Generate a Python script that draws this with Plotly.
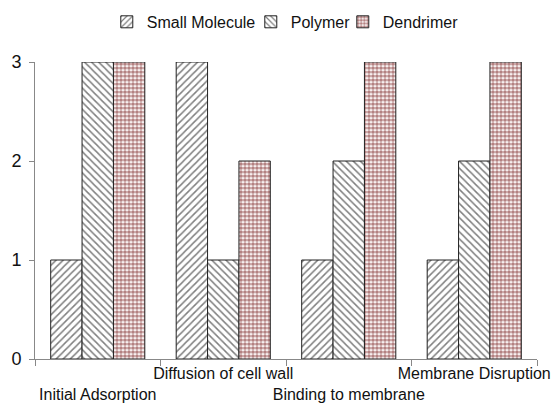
import plotly.graph_objects as go

categories = ["Initial Adsorption", "Diffusion of cell wall", "Binding to membrane", "Membrane Disruption"]
tick_text = ["<br>Initial Adsorption", "Diffusion of cell wall", "<br>Binding to membrane", "Membrane Disruption"]
small_molecule = [1, 3, 1, 1]
polymer = [3, 1, 2, 2]
dendrimer = [3, 2, 3, 3]
y_ticks = [0, 1, 2, 3]

FONT = "Liberation Sans, Arial, sans-serif"

fig = go.Figure()
fig.add_trace(go.Bar(
    name="Small Molecule", x=categories, y=small_molecule, legendwidth=99,
    marker=dict(color="white", line=dict(color="#222222", width=1),
                pattern=dict(shape="/", fgcolor="#000000", bgcolor="white", size=5, solidity=0.3)),
))
fig.add_trace(go.Bar(
    name="Polymer", x=categories, y=polymer, legendwidth=47,
    marker=dict(color="white", line=dict(color="#222222", width=1),
                pattern=dict(shape="\\", fgcolor="#000000", bgcolor="white", size=5, solidity=0.3)),
))
fig.add_trace(go.Bar(
    name="Dendrimer", x=categories, y=dendrimer,
    marker=dict(color="white", line=dict(color="#222222", width=1),
                pattern=dict(shape=".", fgcolor="#6a0505", bgcolor="#ffffff", size=4, solidity=0.68)),
))

fig.update_layout(
    width=554, height=405,
    margin=dict(l=35, r=17, t=62, b=46, autoexpand=False),
    paper_bgcolor="white", plot_bgcolor="white",
    barmode="group", bargap=0.25, bargroupgap=0,
    font=dict(family=FONT, color="#111111"),
    showlegend=True,
    legend=dict(orientation="h", x=0.143, xanchor="left", y=1.135, yanchor="middle",
                font=dict(size=16, family=FONT, color="#111111"),
                itemwidth=30, tracegroupgap=0),
    xaxis=dict(
        type="category", tickmode="array", tickvals=categories, ticktext=tick_text,
        tickson="boundaries", ticks="outside", ticklen=6, tickcolor="#888888",
        tickangle=0, automargin=False,
        showline=True, linecolor="#888888", linewidth=1,
        showgrid=False, zeroline=False,
        tickfont=dict(size=16, family=FONT, color="#111111"),
    ),
    yaxis=dict(
        range=[0, 3], tickmode="array", tickvals=y_ticks,
        ticks="outside", ticklen=5, tickcolor="#888888",
        showline=True, linecolor="#888888", linewidth=1,
        showgrid=False, zeroline=False, automargin=False,
        tickfont=dict(size=18, family=FONT, color="#111111"),
        ticklabelstandoff=4,
    ),
)

fig.write_html(
    "out.html",
    config={"displayModeBar": False},
    post_script="document.body.style.margin='0';document.body.style.overflow='hidden';",
)
